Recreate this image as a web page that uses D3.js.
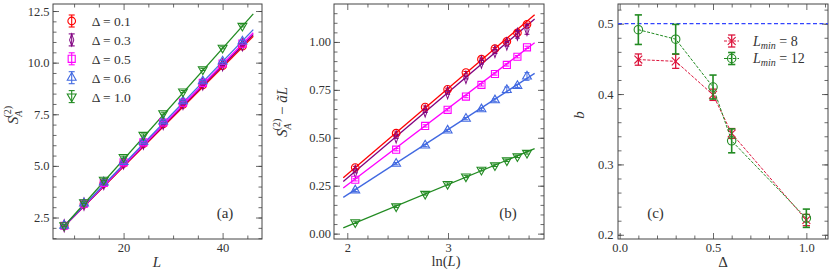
<!DOCTYPE html>
<meta charset="utf-8" />
<style>
  body { margin: 0; background: #fff; }
  svg { font-family: "Liberation Serif", "DejaVu Serif", serif; }
  .tick line { stroke: #444; stroke-width: 0.8; }
  .domain { display: none; }
  .frame { fill: none; stroke: #444; stroke-width: 1; }
  .lbl { fill: #333; }
</style>
<body>
<script src="https://d3js.org/d3.v7.min.js"></script>
<script>
// ---- data ----
var Ls = [8, 12, 16, 20, 24, 28, 32, 36, 40, 44];
var deltaLabels = ["0.1", "0.3", "0.5", "0.6", "1.0"];
var colors = ["#ff0000", "#800080", "#ff00ff", "#4169e1", "#228b22"];
var markers = ["o", "d", "s", "^", "v"];

// (a) S_A^(2) vs L
var sA_d01 = [2.10, 3.15, 4.15, 5.12, 6.08, 7.03, 7.98, 8.92, 9.85, 10.80];
var sA_d03 = [2.10, 3.15, 4.15, 5.14, 6.10, 7.06, 8.02, 8.97, 9.90, 10.87];
var sA_d05 = [2.10, 3.17, 4.18, 5.17, 6.14, 7.10, 8.06, 9.02, 9.96, 10.92];
var sA_d06 = [2.11, 3.18, 4.20, 5.20, 6.18, 7.16, 8.13, 9.10, 10.06, 11.03];
var sA_d10 = [2.12, 3.24, 4.33, 5.42, 6.50, 7.55, 8.60, 9.67, 10.72, 11.78];
var fitA_L = [7.8, 46.2];
var fitA_d01 = [2.03, 11.28];
var fitA_d03 = [2.03, 11.36];
var fitA_d05 = [2.03, 11.45];
var fitA_d06 = [2.04, 11.60];
var fitA_d10 = [2.03, 12.36];

// (b) S_A^(2) - a L vs ln(L)
var lnL = [2.079, 2.485, 2.773, 2.996, 3.178, 3.332, 3.466, 3.584, 3.689, 3.784];
var sB_d01 = [0.345, 0.524, 0.660, 0.753, 0.840, 0.910, 0.965, 1.003, 1.048, 1.092];
var sB_d03 = [0.325, 0.505, 0.640, 0.735, 0.815, 0.895, 0.950, 0.990, 1.040, 1.065];
var sB_d05 = [0.281, 0.438, 0.562, 0.646, 0.715, 0.776, 0.833, 0.880, 0.923, 0.972];
var sB_d06 = [0.226, 0.365, 0.460, 0.538, 0.600, 0.649, 0.696, 0.750, 0.771, 0.820];
var sB_d10 = [0.059, 0.142, 0.207, 0.259, 0.298, 0.333, 0.356, 0.382, 0.403, 0.421];
var errB_d03 = [0.008, 0.008, 0.008, 0.008, 0.008, 0.010, 0.010, 0.012, 0.020, 0.025];
var errB_d06 = [0.006, 0.006, 0.006, 0.006, 0.006, 0.006, 0.008, 0.015, 0.008, 0.020];
var fitB_x = [1.96, 3.86];
var fitB_d01 = [0.292, 1.142];
var fitB_d03 = [0.272, 1.120];
var fitB_d05 = [0.238, 0.996];
var fitB_d06 = [0.189, 0.836];
var fitB_d10 = [0.030, 0.443];

// (c) b vs Delta
var deltaC = [0.1, 0.3, 0.5, 0.6, 1.0];
var b_L8 = [0.449, 0.4465, 0.399, 0.344, 0.221];
var err_L8 = [0.008, 0.010, 0.008, 0.007, 0.008];
var b_L12 = [0.4915, 0.478, 0.410, 0.3335, 0.2235];
var err_L12 = [0.021, 0.021, 0.017, 0.017, 0.013];
var bRef = 0.5;

var sA = [sA_d01, sA_d03, sA_d05, sA_d06, sA_d10];
var fitA = [fitA_d01, fitA_d03, fitA_d05, fitA_d06, fitA_d10];
var sB = [sB_d01, sB_d03, sB_d05, sB_d06, sB_d10];
var errB = [null, errB_d03, null, errB_d06, null];
var fitB = [fitB_d01, fitB_d03, fitB_d05, fitB_d06, fitB_d10];

var svg = d3.select("body").append("svg").attr("width", 831).attr("height", 273);

// ---- helpers ----
function panel(left, right, top, bottom, xDom, yDom, t) {
  var w = right - left, h = bottom - top;
  var g = svg.append("g").attr("transform", "translate(" + left + "," + top + ")");
  var x = d3.scaleLinear().domain(xDom).range([0, w]);
  var y = d3.scaleLinear().domain(yDom).range([h, 0]);
  // minor ticks, all four sides
  g.append("g").attr("transform", "translate(0," + h + ")")
    .call(d3.axisBottom(x).tickValues(t.xMinor).tickFormat("").tickSizeInner(-3.5).tickSizeOuter(0));
  g.append("g").call(d3.axisTop(x).tickValues(t.xMinor).tickFormat("").tickSizeInner(-3.5).tickSizeOuter(0));
  g.append("g").call(d3.axisLeft(y).tickValues(t.yMinor).tickFormat("").tickSizeInner(-3.5).tickSizeOuter(0));
  g.append("g").attr("transform", "translate(" + w + ",0)")
    .call(d3.axisRight(y).tickValues(t.yMinor).tickFormat("").tickSizeInner(-3.5).tickSizeOuter(0));
  // major ticks
  g.append("g").attr("transform", "translate(0," + h + ")")
    .call(d3.axisBottom(x).tickValues(t.xMajor).tickFormat(t.xFmt).tickSizeInner(-6).tickSizeOuter(0).tickPadding(4));
  g.append("g").call(d3.axisTop(x).tickValues(t.xMajor).tickFormat("").tickSizeInner(-6).tickSizeOuter(0));
  g.append("g").call(d3.axisLeft(y).tickValues(t.yMajor).tickFormat(t.yFmt).tickSizeInner(-6).tickSizeOuter(0).tickPadding(t.yPad));
  g.append("g").attr("transform", "translate(" + w + ",0)")
    .call(d3.axisRight(y).tickValues(t.yMajor).tickFormat("").tickSizeInner(-6).tickSizeOuter(0));
  // d3 puts sans-serif on the axis group, so set the serif font on the labels themselves
  g.selectAll(".tick text")
    .style("font-family", "'Liberation Serif', 'DejaVu Serif', serif")
    .style("font-size", "12.5px")
    .style("fill", "#333");
  g.append("rect").attr("class", "frame").attr("width", w).attr("height", h);
  return { g: g, x: x, y: y };
}

function markerPath(kind) {
  if (kind === "o") return d3.symbol().type(d3.symbolCircle).size(46)();
  if (kind === "s") return d3.symbol().type(d3.symbolSquare).size(50)();
  if (kind === "d") return d3.symbol().type(d3.symbolDiamond).size(44)();
  if (kind === "^" || kind === "v") return d3.symbol().type(d3.symbolTriangle).size(34)();
  if (kind === "x") return d3.symbol().type(d3.symbolTimes || d3.symbolX).size(42)();
  if (kind === "O") return d3.symbol().type(d3.symbolCircle).size(56)();
}
function drawMarker(g, kind, cx, cy, color) {
  var tr = "translate(" + cx + "," + cy + ")";
  if (kind === "v") tr += " rotate(180)";
  if (kind === "d") tr += " scale(0.6,1)";
  g.append("path").attr("d", markerPath(kind)).attr("transform", tr)
    .attr("fill", "none").attr("stroke", color)
    .attr("stroke-width", kind === "d" ? 1.4 : 1.1);
}
function errorBar(g, cx, y0, y1, color, cap, sw) {
  g.append("line").attr("x1", cx).attr("x2", cx).attr("y1", y0).attr("y2", y1)
    .attr("stroke", color).attr("stroke-width", sw);
  [y0, y1].forEach(function (yy) {
    g.append("line").attr("x1", cx - cap).attr("x2", cx + cap).attr("y1", yy).attr("y2", yy)
      .attr("stroke", color).attr("stroke-width", sw);
  });
}
function straight(p, xs, ys, color) {
  p.g.append("path")
    .attr("d", d3.line().x(function (d) { return p.x(d[0]); }).y(function (d) { return p.y(d[1]); })(d3.zip(xs, ys)))
    .attr("fill", "none").attr("stroke", color).attr("stroke-width", 1.3);
}

// ---- panel (a) ----
var pa = panel(53, 262, 4, 239, [5.74, 47.96], [1.46, 12.84], {
  xMajor: [20, 40], xMinor: [10, 15, 25, 30, 35, 45], xFmt: d3.format("d"),
  yMajor: [2.5, 5, 7.5, 10, 12.5], yMinor: d3.range(1.5, 12.9, 0.5), yFmt: d3.format(".1f"), yPad: 3.5
});
sA.forEach(function (vals, i) {
  straight(pa, fitA_L, fitA[i], colors[i]);
});
sA.forEach(function (vals, i) {
  vals.forEach(function (v, j) {
    errorBar(pa.g, pa.x(Ls[j]), pa.y(v - 0.05), pa.y(v + 0.05), colors[i], 2.5, 1);
    drawMarker(pa.g, markers[i], pa.x(Ls[j]), pa.y(v), colors[i]);
  });
});
// legend (a)
deltaLabels.forEach(function (lab, i) {
  var cy = 21 + i * 18.9;
  errorBar(svg, 71.7, cy - 6, cy + 6, colors[i], 3, 1.1);
  drawMarker(svg, markers[i], 71.7, cy, colors[i]);
  svg.append("text").attr("class", "lbl").attr("x", 91.7).attr("y", cy + 5)
    .style("font-size", "13.5px").text("\u0394 = " + lab);
});
svg.append("text").attr("class", "lbl").attr("x", 225).attr("y", 218)
  .attr("text-anchor", "middle").style("font-size", "15px").text("(a)");

// ---- panel (b) ----
var pb = panel(334, 544, 4, 239, [1.868, 3.953], [-0.028, 1.198], {
  xMajor: [2, 3], xMinor: [2.2, 2.4, 2.6, 2.8, 3.2, 3.4, 3.6, 3.8], xFmt: d3.format("d"),
  yMajor: [0, 0.25, 0.5, 0.75, 1.0], yMinor: d3.range(0, 1.17, 0.05), yFmt: d3.format(".2f"), yPad: 3
});
sB.forEach(function (vals, i) {
  straight(pb, fitB_x, fitB[i], colors[i]);
});
sB.forEach(function (vals, i) {
  vals.forEach(function (v, j) {
    var e = errB[i] ? errB[i][j] : 0.006;
    errorBar(pb.g, pb.x(lnL[j]), pb.y(v - e), pb.y(v + e), colors[i], 2.5, 1);
    drawMarker(pb.g, markers[i], pb.x(lnL[j]), pb.y(v), colors[i]);
  });
});
svg.append("text").attr("class", "lbl").attr("x", 508).attr("y", 218)
  .attr("text-anchor", "middle").style("font-size", "15px").text("(b)");

// ---- panel (c) ----
var pc = panel(618, 828, 4, 239, [-0.009, 1.116], [0.194, 0.528], {
  xMajor: [0, 0.5, 1.0], xMinor: [0.1, 0.2, 0.3, 0.4, 0.6, 0.7, 0.8, 0.9, 1.1], xFmt: d3.format(".1f"),
  yMajor: [0.2, 0.3, 0.4, 0.5], yMinor: d3.range(0.2, 0.53, 0.02), yFmt: d3.format(".1f"), yPad: 4.5
});
pc.g.append("line").attr("x1", 0).attr("x2", pc.x.range()[1])
  .attr("y1", pc.y(bRef)).attr("y2", pc.y(bRef))
  .attr("stroke", "#3344ff").attr("stroke-width", 1.2).attr("stroke-dasharray", "4,2.5");

var cSeries = [
  { vals: b_L8, errs: err_L8, color: "#dc143c", marker: "x", sw: 1.3, label: "8" },
  { vals: b_L12, errs: err_L12, color: "#228b22", marker: "O", sw: 1.6, label: "12" }
];
cSeries.forEach(function (s) {
  pc.g.append("path")
    .attr("d", d3.line().x(function (d) { return pc.x(d[0]); }).y(function (d) { return pc.y(d[1]); })(d3.zip(deltaC, s.vals)))
    .attr("fill", "none").attr("stroke", s.color).attr("stroke-width", 1).attr("stroke-dasharray", "3,1.5");
  s.vals.forEach(function (v, j) {
    errorBar(pc.g, pc.x(deltaC[j]), pc.y(v - s.errs[j]), pc.y(v + s.errs[j]), s.color, 3.6, s.sw);
    drawMarker(pc.g, s.marker, pc.x(deltaC[j]), pc.y(v), s.color);
  });
});
// legend (c)
cSeries.forEach(function (s, i) {
  var cy = 41 + i * 17.5;
  svg.append("line").attr("x1", 724).attr("x2", 739).attr("y1", cy).attr("y2", cy)
    .attr("stroke", s.color).attr("stroke-width", 1).attr("stroke-dasharray", "3,1.5");
  errorBar(svg, 731.7, cy - 6, cy + 6, s.color, 3.6, s.sw);
  drawMarker(svg, s.marker, 731.7, cy, s.color);
  var t = svg.append("text").attr("class", "lbl").attr("x", 753).attr("y", cy + 4.5).style("font-size", "14px");
  t.append("tspan").style("font-style", "italic").text("L");
  t.append("tspan").attr("dy", 3).style("font-size", "10px").style("font-style", "italic").text("min");
  t.append("tspan").attr("dy", -3).text(" = " + s.label);
});
svg.append("text").attr("class", "lbl").attr("x", 655.5).attr("y", 218)
  .attr("text-anchor", "middle").style("font-size", "15px").text("(c)");

// ---- axis labels ----
svg.append("text").attr("class", "lbl").attr("x", 157).attr("y", 267)
  .attr("text-anchor", "middle").style("font-size", "15px").style("font-style", "italic").text("L");
var xl = svg.append("text").attr("class", "lbl").attr("x", 446).attr("y", 266)
  .attr("text-anchor", "middle").style("font-size", "14.5px");
xl.append("tspan").text("ln(");
xl.append("tspan").style("font-style", "italic").text("L");
xl.append("tspan").text(")");
svg.append("text").attr("class", "lbl").attr("x", 723).attr("y", 267)
  .attr("text-anchor", "middle").style("font-size", "15px").text("\u0394");

function sLabel(sel) {
  sel.append("tspan").style("font-style", "italic").text("S");
  sel.append("tspan").attr("dy", 4).style("font-size", "10px").style("font-style", "italic").text("A");
  sel.append("tspan").attr("dx", -7).attr("dy", -11).style("font-size", "10px").text("(2)");
}
var ya = svg.append("text").attr("class", "lbl").attr("transform", "translate(18,115) rotate(-90)")
  .attr("text-anchor", "middle").style("font-size", "15px");
sLabel(ya);
var yb = svg.append("text").attr("class", "lbl").attr("transform", "translate(287,112) rotate(-90)")
  .attr("text-anchor", "middle").style("font-size", "15px");
sLabel(yb);
yb.append("tspan").attr("dy", 7).text(" \u2212 ");
yb.append("tspan").style("font-style", "italic").text("\u00e3L");
svg.append("text").attr("class", "lbl").attr("transform", "translate(584,115) rotate(-90)")
  .attr("text-anchor", "middle").style("font-size", "15px").style("font-style", "italic").text("b");
</script>
</body>
